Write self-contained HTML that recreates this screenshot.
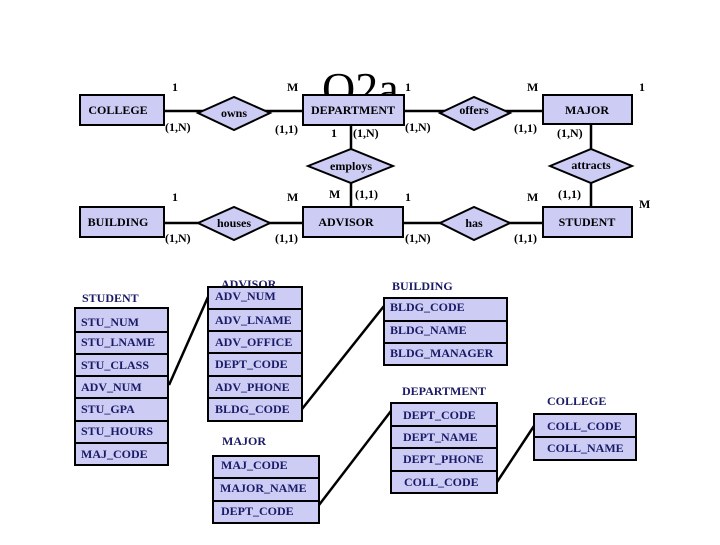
<!DOCTYPE html>
<html><head><meta charset="utf-8"><style>
body{margin:0;background:#fff}
svg text{font-family:"Liberation Serif",serif;font-weight:bold}
</style></head><body>
<svg width="720" height="540" viewBox="0 0 720 540" xmlns="http://www.w3.org/2000/svg">
<text x="322" y="104" font-size="46" font-weight="normal" style="font-weight:normal" fill="#000">O2a</text>
<g stroke="#000" stroke-width="2.5" fill="none">
<line x1="164" y1="111" x2="303" y2="111"/>
<line x1="404" y1="111" x2="543" y2="111"/>
<line x1="164" y1="223" x2="303" y2="223"/>
<line x1="403" y1="223" x2="543" y2="223"/>
<line x1="351" y1="125" x2="351" y2="207"/>
<line x1="591" y1="124" x2="591" y2="207"/>
<line x1="169" y1="385" x2="208" y2="297"/>
<line x1="302" y1="409" x2="384" y2="306"/>
<line x1="319" y1="505" x2="391" y2="411"/>
<line x1="497" y1="482" x2="534" y2="426"/>
</g>
<g fill="#ccccf5" stroke="#000" stroke-width="2">
<rect x="80" y="95" width="84" height="30"/>
<rect x="303" y="95" width="101" height="30"/>
<rect x="543" y="95" width="89" height="29"/>
<rect x="80" y="207" width="84" height="30"/>
<rect x="303" y="207" width="100" height="30"/>
<rect x="543" y="207" width="89" height="30"/>
<polygon points="198,113 234,97 270,113 234,130"/>
<polygon points="440,113 474,97 510,113 474,130"/>
<polygon points="308,166 351,149 393,166 351,183"/>
<polygon points="550,166 591,149 632,166 591,183"/>
<polygon points="198,223 234,207 270,223 234,240"/>
<polygon points="440,223 474,207 510,223 474,240"/>
</g>
<g font-size="12" fill="#000" text-anchor="middle">
<text x="118" y="114">COLLEGE</text><text x="353" y="114">DEPARTMENT</text><text x="587" y="114">MAJOR</text>
<text x="118" y="226">BUILDING</text><text x="346" y="226">ADVISOR</text><text x="587" y="226">STUDENT</text>
<text x="234" y="117">owns</text><text x="474" y="114">offers</text><text x="351" y="170">employs</text>
<text x="591" y="169">attracts</text><text x="234" y="227">houses</text><text x="474" y="227">has</text>
</g>
<g font-size="12" fill="#000">
<text x="172" y="91">1</text><text x="287" y="91">M</text><text x="165" y="131">(1,N)</text><text x="275" y="133">(1,1)</text>
<text x="331" y="137">1</text><text x="353" y="137">(1,N)</text>
<text x="405" y="91">1</text><text x="527" y="91">M</text><text x="405" y="131">(1,N)</text><text x="514" y="132">(1,1)</text>
<text x="639" y="91">1</text><text x="557" y="137">(1,N)</text>
<text x="329" y="198">M</text><text x="355" y="198">(1,1)</text>
<text x="172" y="201">1</text><text x="287" y="201">M</text><text x="165" y="242">(1,N)</text><text x="275" y="242">(1,1)</text>
<text x="405" y="201">1</text><text x="527" y="201">M</text><text x="405" y="242">(1,N)</text><text x="514" y="242">(1,1)</text>
<text x="558" y="198">(1,1)</text><text x="639" y="208">M</text>
</g>
<g font-size="12" fill="#1a1a66">
<text x="82" y="302">STUDENT</text>
<text x="221" y="288">ADVISOR</text>
<text x="222" y="445">MAJOR</text>
<text x="392" y="290">BUILDING</text>
<text x="402" y="395">DEPARTMENT</text>
<text x="547" y="405">COLLEGE</text>
</g>
<g fill="#ccccf5" stroke="#000" stroke-width="2">
<rect x="75" y="308" width="93" height="157"/>
<rect x="208" y="287" width="94" height="134"/>
<rect x="213" y="456" width="106" height="67"/>
<rect x="384" y="298" width="123" height="67"/>
<rect x="391" y="403" width="106" height="90"/>
<rect x="534" y="414" width="102" height="46"/>
</g>
<g stroke="#000" stroke-width="2">
<line x1="75" y1="332" x2="168" y2="332"/><line x1="75" y1="354" x2="168" y2="354"/><line x1="75" y1="376" x2="168" y2="376"/><line x1="75" y1="398" x2="168" y2="398"/><line x1="75" y1="421" x2="168" y2="421"/><line x1="75" y1="443" x2="168" y2="443"/>
<line x1="208" y1="309" x2="302" y2="309"/><line x1="208" y1="331" x2="302" y2="331"/><line x1="208" y1="353" x2="302" y2="353"/><line x1="208" y1="376" x2="302" y2="376"/><line x1="208" y1="398" x2="302" y2="398"/>
<line x1="213" y1="478" x2="319" y2="478"/><line x1="213" y1="501" x2="319" y2="501"/>
<line x1="384" y1="321" x2="507" y2="321"/><line x1="384" y1="343" x2="507" y2="343"/>
<line x1="391" y1="426" x2="497" y2="426"/><line x1="391" y1="448" x2="497" y2="448"/><line x1="391" y1="471" x2="497" y2="471"/>
<line x1="534" y1="437" x2="636" y2="437"/>
</g>
<g font-size="12" fill="#1a1a66">
<text x="81" y="326">STU_NUM</text><text x="81" y="346">STU_LNAME</text><text x="81" y="369">STU_CLASS</text><text x="81" y="391">ADV_NUM</text><text x="81" y="413">STU_GPA</text><text x="81" y="435">STU_HOURS</text><text x="81" y="458">MAJ_CODE</text>
<text x="215" y="300">ADV_NUM</text><text x="215" y="324">ADV_LNAME</text><text x="215" y="346">ADV_OFFICE</text><text x="215" y="368">DEPT_CODE</text><text x="215" y="391">ADV_PHONE</text><text x="215" y="413">BLDG_CODE</text>
<text x="221" y="469">MAJ_CODE</text><text x="220" y="492">MAJOR_NAME</text><text x="221" y="515">DEPT_CODE</text>
<text x="390" y="311">BLDG_CODE</text><text x="390" y="334">BLDG_NAME</text><text x="390" y="357">BLDG_MANAGER</text>
<text x="403" y="419">DEPT_CODE</text><text x="403" y="441">DEPT_NAME</text><text x="403" y="463">DEPT_PHONE</text><text x="404" y="486">COLL_CODE</text>
<text x="547" y="430">COLL_CODE</text><text x="547" y="452">COLL_NAME</text>
</g>
</svg>
</body></html>
